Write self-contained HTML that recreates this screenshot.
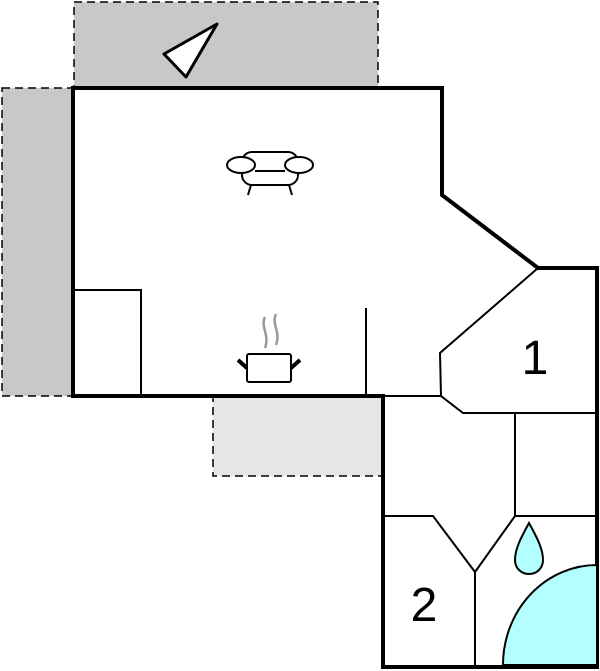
<!DOCTYPE html>
<html><head><style>html,body{margin:0;padding:0;background:#fff;}svg{display:block}</style></head>
<body>
<svg width="600" height="671" viewBox="0 0 600 671" xmlns="http://www.w3.org/2000/svg">
<rect x="74" y="2" width="304" height="86" fill="#c8c8c8" stroke="#000" stroke-width="1.5" stroke-dasharray="8,5"/>
<rect x="2" y="88" width="71" height="308" fill="#c8c8c8" stroke="#000" stroke-width="1.5" stroke-dasharray="8,5"/>
<rect x="213" y="396" width="170" height="80" fill="#e6e6e6" stroke="#000" stroke-width="1.5" stroke-dasharray="8,5"/>
<polygon points="164,54 217,24 186,77" fill="#fff" stroke="#000" stroke-width="3" stroke-linejoin="round"/>
<polygon points="73,88 442,88 442,195 538,268 597,268 597,667 383,667 383,396 73,396" fill="#fff" stroke="#000" stroke-width="4"/>
<g fill="none" stroke="#000" stroke-width="2">
<polyline points="75,290 141,290 141,396"/>
<line x1="366" y1="308" x2="366" y2="396"/>
<polyline points="538,268 440,353 441,396 463,413 597,413"/>
<line x1="515" y1="413" x2="515" y2="516"/>
<line x1="515" y1="516" x2="597" y2="516"/>
<polyline points="385,516 433,516 475,572 515,516"/>
<line x1="475" y1="572" x2="475" y2="667"/>
<line x1="385" y1="396" x2="441" y2="396"/>
</g>
<path d="M503,665 A94,100 0 0 1 597,565 L597,665 Z" fill="#b3ffff" stroke="#000" stroke-width="2"/>
<path d="M529,523 C522,536 515,548 515,560 C515,568 521,574 529,574 C537,574 543,568 543,560 C543,548 536,536 529,523 Z" fill="#b3ffff" stroke="#000" stroke-width="2"/>
<g fill="none" stroke="#000" stroke-width="2">
<rect x="242" y="152" width="56" height="33" rx="10" fill="#fff"/>
<ellipse cx="241" cy="165" rx="14" ry="8" fill="#fff"/>
<ellipse cx="299" cy="165" rx="14" ry="8" fill="#fff"/>
<line x1="255" y1="171" x2="285" y2="171"/>
<line x1="251" y1="185" x2="248" y2="195"/>
<line x1="289" y1="185" x2="292" y2="195"/>
<rect x="247" y="354" width="44" height="28" rx="2"/>
<line x1="238" y1="360" x2="247" y2="368" stroke-width="4"/>
<line x1="300" y1="360" x2="291" y2="368" stroke-width="4"/>
</g>
<path d="M265,317 C260,327 270,334 265,348 M276,314 C271,324 281,331 276,345" fill="none" stroke="#999" stroke-width="2.5"/>
<g font-family="Liberation Sans, sans-serif" font-size="48" fill="#000" text-anchor="middle">
<text x="535" y="374">1</text>
<text x="424" y="621">2</text>
</g>
</svg>
</body></html>
